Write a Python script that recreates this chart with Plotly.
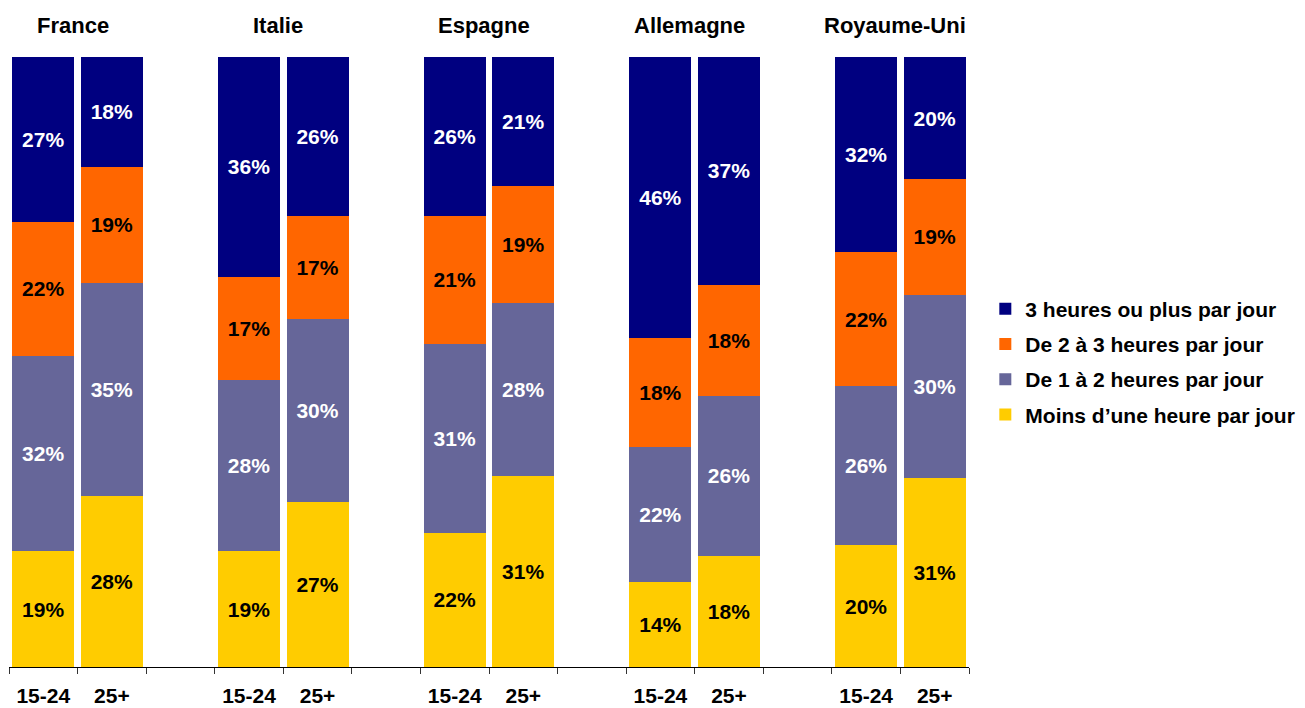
import plotly.graph_objects as go

countries = ["France", "Italie", "Espagne", "Allemagne", "Royaume-Uni"]
ages = ["15-24", "25+"]

series_names = [
    "Moins d\u2019une heure par jour",
    "De 1 \u00e0 2 heures par jour",
    "De 2 \u00e0 3 heures par jour",
    "3 heures ou plus par jour",
]
# values in order: France 15-24, France 25+, Italie 15-24, Italie 25+, ...
moins_1h = [19, 28, 19, 27, 22, 31, 14, 18, 20, 31]
de_1_a_2h = [32, 35, 28, 30, 31, 28, 22, 26, 26, 30]
de_2_a_3h = [22, 19, 17, 17, 21, 19, 18, 18, 22, 19]
plus_3h = [27, 18, 36, 26, 26, 21, 46, 37, 32, 20]

colors = ["#FFCC00", "#666699", "#FF6600", "#000080"]
text_colors = ["black", "white", "black", "white"]

FONT = "Arial, Liberation Sans, sans-serif"
ZW = "\u200b"

# Build unique category ids (zero-width spaces keep visible labels identical)
x_cats = []
category_array = []
for gi, c in enumerate(countries):
    for ai, a in enumerate(ages):
        cat = a + ZW * gi
        x_cats.append(cat)
        category_array.append(cat)
    if gi < len(countries) - 1:
        category_array.append(ZW * (gi + 1) + " ")

fig = go.Figure()
n = len(series_names)
for i, (name, vals, col, tcol) in enumerate(zip(series_names, [moins_1h, de_1_a_2h, de_2_a_3h, plus_3h], colors, text_colors)):
    fig.add_trace(go.Bar(
        x=x_cats,
        y=vals,
        name=name,
        legendgroup=name,
        legendrank=n - i,
        marker=dict(color=col, line=dict(width=0)),
        text=[f"{v}%" for v in vals],
        textposition="inside",
        insidetextanchor="middle",
        textangle=0,
        textfont=dict(family=FONT, size=21, color=tcol, weight="bold"),
        hoverinfo="skip",
    ))

for gi, c in enumerate(countries):
    fig.add_annotation(
        x=gi * 3 + 0.5, y=1.052, xref="x", yref="paper",
        text=f"<b>{c}</b>", showarrow=False,
        font=dict(family=FONT, size=22, color="black"),
        xanchor="center", yanchor="middle", xshift=-5,
    )

fig.update_layout(
    width=1305, height=708,
    barmode="stack", barnorm="percent",
    bargap=0.096,
    plot_bgcolor="white", paper_bgcolor="white",
    margin=dict(l=9, r=336, t=57, b=41, autoexpand=False),
    showlegend=True,
    legend=dict(
        x=1.017, y=0.5, xanchor="left", yanchor="middle",
        traceorder="grouped", tracegroupgap=5,
        font=dict(family=FONT, size=21, color="black", weight="bold"),
        itemwidth=30, bgcolor="rgba(0,0,0,0)",
    ),
    xaxis=dict(
        type="category", categoryorder="array", categoryarray=category_array,
        automargin=False,
        showline=True, linecolor="black", linewidth=1,
        ticks="outside", tickson="boundaries", ticklen=6, tickcolor="#333333",
        ticklabelstandoff=10,
        tickfont=dict(family=FONT, size=21, color="black", weight="bold"),
        showgrid=False, zeroline=False,
    ),
    yaxis=dict(range=[0, 100], visible=False, showgrid=False, zeroline=False,
               automargin=False),
    font=dict(family=FONT),
)

fig.write_html(
    "out.html",
    config={"displayModeBar": False},
    post_script="document.body.style.margin='0px';document.body.style.overflow='hidden';",
)
